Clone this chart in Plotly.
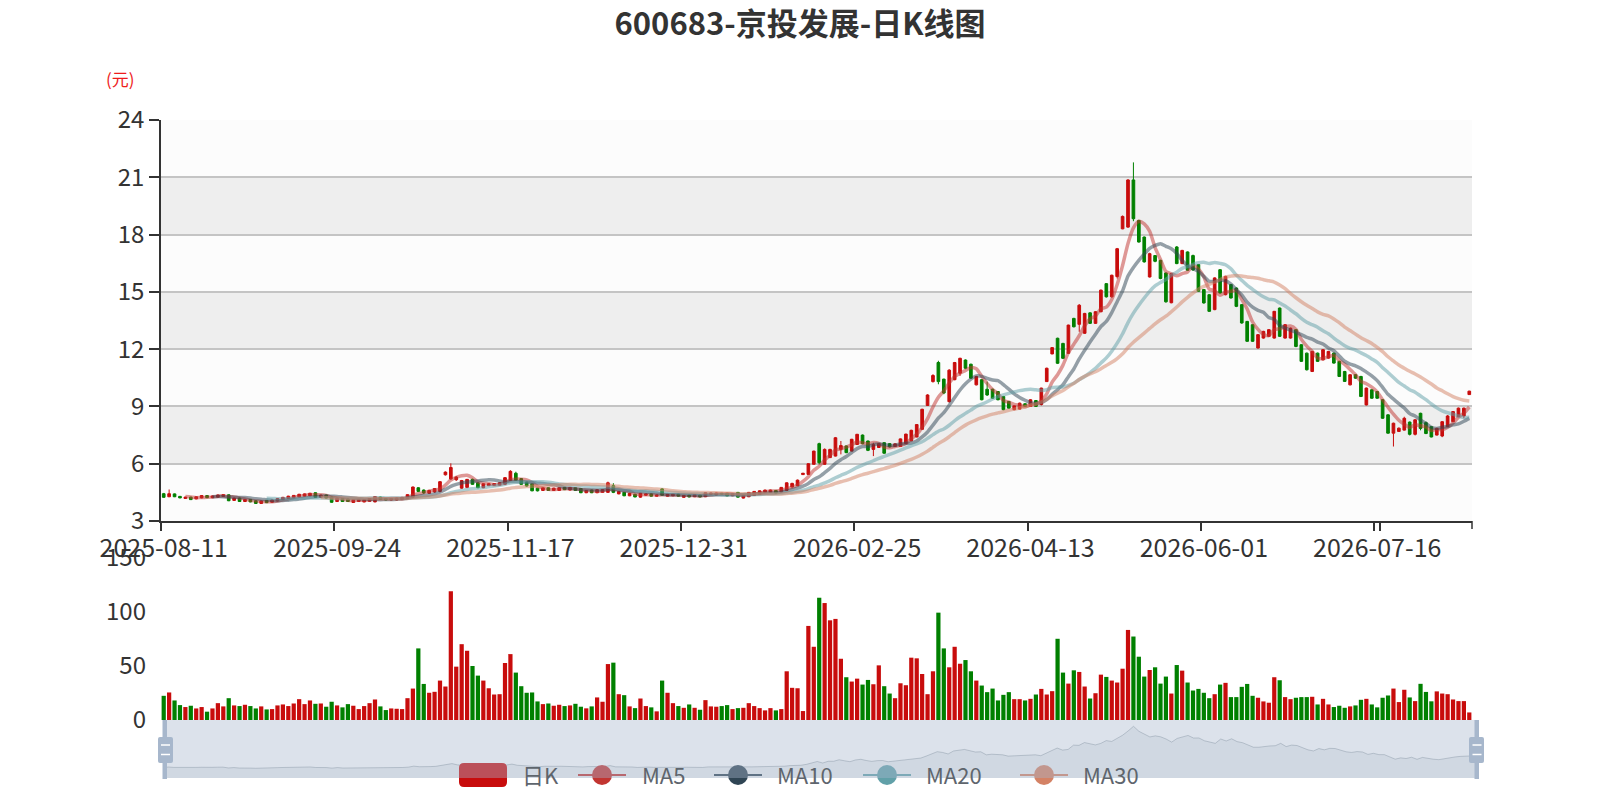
import pandas as pd
import plotly.graph_objects as go

# 画布与配色(参照 ECharts 默认主题)
W, H = 1600, 800
INK = "#333333"
UP = "#c80c0c"
DOWN = "#008000"
GRID = "#c4c4c4"
BAND = "#eeeeee"
FONT = "Noto Sans CJK SC, Noto Sans, sans-serif"
MA_COLORS = {"MA5": "#c23531", "MA10": "#2f4554", "MA20": "#61a0a8", "MA30": "#d48265"}

# 交易日:2025-08-11 ~ 2026-08-10,剔除法定休市日
HOLIDAYS = ["2025-10-01", "2025-10-02", "2025-10-03", "2025-10-06", "2025-10-07",
            "2025-10-08", "2026-01-01", "2026-01-02", "2026-02-16", "2026-02-17",
            "2026-02-18", "2026-02-19", "2026-02-20", "2026-02-23", "2026-04-06",
            "2026-05-01", "2026-05-04", "2026-05-05", "2026-06-19"]
DATES = [d.strftime("%Y-%m-%d") for d in pd.bdate_range("2025-08-11", "2026-08-10")
         if d.strftime("%Y-%m-%d") not in HOLIDAYS]

OPEN = [
    4.43, 4.27, 4.42, 4.29, 4.18, 4.25, 4.16, 4.21, 4.33, 4.22,
    4.25, 4.28, 4.37, 4.08, 4.20, 4.02, 4.13, 4.06, 3.92, 4.08,
    3.98, 4.05, 4.12, 4.18, 4.22, 4.26, 4.30, 4.32, 4.48, 4.24,
    4.36, 4.25, 4.02, 4.18, 4.15, 3.97, 4.02, 4.00, 4.03, 4.00,
    4.25, 4.18, 4.10, 4.10, 4.12, 4.18, 4.25, 4.74, 4.62, 4.45,
    4.52, 4.55, 5.42, 5.20, 5.16, 4.72, 4.76, 5.18, 5.00, 4.74,
    4.85, 4.87, 4.88, 4.92, 5.13, 5.50, 5.22, 5.04, 4.95, 4.72,
    4.60, 4.74, 4.60, 4.60, 4.76, 4.62, 4.74, 4.70, 4.48, 4.62,
    4.48, 4.50, 4.50, 4.85, 4.42, 4.50, 4.32, 4.40, 4.25, 4.35,
    4.42, 4.30, 4.68, 4.30, 4.32, 4.40, 4.24, 4.36, 4.27, 4.36,
    4.27, 4.40, 4.36, 4.45, 4.45, 4.32, 4.50, 4.20, 4.27, 4.34,
    4.40, 4.50, 4.50, 4.60, 4.52, 4.60, 4.78, 4.85, 5.43, 5.44,
    5.97, 7.05, 5.97, 6.32, 6.40, 6.75, 6.93, 6.66, 7.01, 7.50,
    7.19, 6.75, 6.85, 7.10, 7.05, 6.90, 6.90, 7.05, 7.20, 7.40,
    7.80, 9.05, 10.30, 11.30, 10.43, 9.25, 10.40, 10.74, 11.43, 11.21,
    10.13, 10.40, 9.90, 9.90, 9.78, 9.52, 9.26, 8.83, 8.86, 9.14,
    9.00, 9.31, 9.10, 10.30, 11.75, 12.57, 12.30, 11.78, 13.61, 13.30,
    12.83, 13.90, 13.35, 13.96, 15.43, 14.74, 15.80, 18.30, 18.39, 20.86,
    18.74, 17.87, 15.78, 16.90, 16.65, 15.99, 14.43, 17.35, 16.48, 17.09,
    16.90, 16.43, 15.12, 14.85, 14.07, 16.16, 14.85, 15.38, 15.20, 14.33,
    13.45, 13.28, 12.06, 12.58, 12.67, 12.58, 14.15, 12.58, 12.58, 13.02,
    12.23, 11.79, 10.83, 11.79, 11.44, 11.53, 11.79, 11.36, 10.83, 10.13,
    10.66, 10.57, 9.08, 9.87, 9.78, 9.35, 8.56, 7.60, 7.69, 7.76,
    8.18, 7.54, 8.64, 8.15, 7.94, 7.50, 7.45, 7.94, 8.20, 8.46,
    8.50, 9.62]

CLOSE = [
    4.24, 4.43, 4.27, 4.21, 4.25, 4.12, 4.27, 4.33, 4.22, 4.31,
    4.36, 4.38, 4.06, 4.20, 4.02, 4.13, 4.00, 3.92, 4.05, 3.96,
    4.10, 4.18, 4.24, 4.30, 4.34, 4.40, 4.42, 4.45, 4.24, 4.36,
    4.20, 3.98, 4.20, 4.02, 4.02, 4.12, 4.12, 4.12, 4.18, 4.28,
    4.13, 4.10, 4.18, 4.20, 4.24, 4.38, 4.78, 4.55, 4.47, 4.60,
    4.70, 5.06, 5.56, 5.80, 5.30, 5.12, 5.18, 4.92, 4.74, 4.95,
    4.95, 4.96, 5.00, 5.27, 5.60, 5.13, 4.92, 4.83, 4.58, 4.58,
    4.74, 4.60, 4.72, 4.74, 4.64, 4.76, 4.60, 4.48, 4.60, 4.48,
    4.64, 4.64, 5.00, 4.50, 4.55, 4.32, 4.45, 4.26, 4.45, 4.42,
    4.30, 4.36, 4.35, 4.40, 4.40, 4.30, 4.34, 4.26, 4.38, 4.26,
    4.48, 4.46, 4.46, 4.42, 4.32, 4.43, 4.25, 4.35, 4.50, 4.55,
    4.58, 4.62, 4.62, 4.47, 4.76, 5.00, 4.97, 5.14, 5.50, 6.00,
    6.66, 6.05, 6.75, 6.75, 7.36, 6.95, 6.58, 7.28, 7.54, 7.05,
    6.70, 7.00, 7.05, 6.55, 6.88, 7.04, 7.30, 7.55, 7.75, 8.05,
    8.85, 9.60, 10.62, 10.30, 9.70, 10.90, 11.30, 11.52, 11.00, 10.48,
    10.57, 9.35, 9.60, 9.43, 9.35, 8.83, 8.91, 9.03, 9.17, 9.00,
    9.35, 9.00, 9.96, 11.00, 12.08, 11.26, 11.52, 13.26, 13.17, 14.30,
    13.87, 13.35, 13.96, 15.09, 14.74, 15.87, 17.26, 18.95, 20.86, 18.83,
    17.61, 16.57, 17.00, 16.60, 15.70, 14.48, 15.96, 16.48, 17.17, 16.13,
    16.15, 15.03, 14.42, 13.98, 15.73, 14.94, 15.81, 14.68, 14.24, 13.37,
    12.41, 12.41, 12.76, 12.93, 13.02, 13.98, 12.67, 13.28, 13.10, 12.14,
    11.36, 10.92, 11.88, 11.36, 11.97, 11.88, 11.27, 10.57, 10.31, 10.66,
    10.48, 9.52, 9.96, 9.43, 9.43, 8.38, 7.60, 8.12, 7.86, 8.38,
    7.54, 8.30, 7.85, 7.58, 7.40, 7.85, 8.20, 8.50, 8.73, 8.91,
    8.91, 9.80]

HIGH = [
    4.47, 4.65, 4.44, 4.31, 4.27, 4.27, 4.29, 4.35, 4.35, 4.33,
    4.38, 4.40, 4.39, 4.22, 4.22, 4.15, 4.15, 4.08, 4.07, 4.10,
    4.12, 4.20, 4.26, 4.32, 4.36, 4.42, 4.44, 4.47, 4.50, 4.38,
    4.38, 4.27, 4.22, 4.20, 4.17, 4.14, 4.14, 4.14, 4.20, 4.30,
    4.27, 4.20, 4.20, 4.22, 4.26, 4.40, 4.80, 4.77, 4.65, 4.63,
    4.72, 5.08, 5.60, 6.02, 5.35, 5.15, 5.20, 5.22, 5.02, 4.98,
    4.98, 4.99, 5.03, 5.30, 5.66, 5.58, 5.25, 5.06, 4.97, 4.74,
    4.76, 4.76, 4.74, 4.76, 4.78, 4.78, 4.76, 4.72, 4.62, 4.64,
    4.66, 4.66, 5.06, 4.98, 4.57, 4.52, 4.47, 4.42, 4.47, 4.44,
    4.44, 4.38, 4.72, 4.42, 4.42, 4.42, 4.36, 4.38, 4.40, 4.38,
    4.50, 4.48, 4.48, 4.47, 4.47, 4.45, 4.52, 4.37, 4.52, 4.57,
    4.60, 4.64, 4.64, 4.62, 4.78, 5.02, 5.00, 5.17, 5.52, 6.02,
    6.68, 7.10, 6.80, 6.78, 7.40, 7.19, 6.95, 7.30, 7.56, 7.53,
    7.21, 7.10, 7.08, 7.12, 7.08, 7.06, 7.32, 7.57, 7.78, 8.08,
    8.88, 9.64, 10.69, 11.39, 10.45, 10.95, 11.33, 11.55, 11.46, 11.24,
    10.60, 10.43, 10.30, 9.93, 9.80, 9.55, 9.28, 9.05, 9.20, 9.16,
    9.38, 9.33, 9.98, 11.03, 12.10, 12.60, 12.33, 13.28, 13.64, 14.36,
    13.90, 13.93, 13.99, 15.12, 15.46, 15.90, 17.30, 19.00, 20.90, 21.78,
    18.77, 17.90, 17.05, 16.93, 16.68, 16.02, 15.99, 17.40, 17.20, 17.12,
    16.95, 16.46, 15.15, 14.88, 15.76, 16.19, 15.84, 15.41, 15.23, 14.36,
    13.48, 13.31, 12.79, 12.96, 13.05, 14.00, 14.18, 13.31, 13.13, 13.05,
    12.26, 11.82, 11.91, 11.82, 12.00, 11.91, 11.82, 11.39, 10.86, 10.69,
    10.69, 10.60, 9.99, 9.90, 9.81, 9.38, 8.59, 8.15, 7.90, 8.46,
    8.21, 8.33, 8.67, 8.21, 7.96, 7.88, 8.23, 8.55, 8.76, 8.94,
    8.94, 9.82]

LOW = [
    4.22, 4.25, 4.25, 4.19, 4.16, 4.10, 4.14, 4.19, 4.20, 4.20,
    4.23, 4.26, 4.04, 4.06, 4.00, 4.00, 3.98, 3.90, 3.90, 3.94,
    3.96, 4.03, 4.10, 4.16, 4.20, 4.24, 4.28, 4.30, 4.22, 4.22,
    4.18, 3.96, 4.00, 4.00, 4.00, 3.95, 4.00, 3.98, 4.01, 3.98,
    4.11, 4.08, 4.08, 4.08, 4.10, 4.16, 4.23, 4.52, 4.42, 4.42,
    4.48, 4.50, 5.38, 5.16, 5.10, 4.68, 4.72, 4.90, 4.72, 4.72,
    4.83, 4.85, 4.86, 4.90, 5.10, 5.10, 4.90, 4.80, 4.56, 4.55,
    4.58, 4.58, 4.58, 4.58, 4.62, 4.60, 4.58, 4.46, 4.46, 4.46,
    4.46, 4.48, 4.48, 4.46, 4.40, 4.30, 4.30, 4.24, 4.22, 4.33,
    4.28, 4.28, 4.33, 4.28, 4.30, 4.28, 4.22, 4.24, 4.25, 4.24,
    4.25, 4.38, 4.34, 4.40, 4.30, 4.30, 4.23, 4.18, 4.25, 4.32,
    4.38, 4.48, 4.48, 4.45, 4.50, 4.58, 4.76, 4.83, 5.41, 5.42,
    5.95, 5.97, 5.95, 6.30, 6.38, 6.49, 6.55, 6.64, 6.99, 7.02,
    6.66, 6.40, 6.83, 6.52, 6.85, 6.88, 6.88, 7.03, 7.18, 7.38,
    7.78, 9.03, 10.25, 10.16, 9.64, 9.20, 10.37, 10.60, 10.95, 10.45,
    10.10, 9.32, 9.55, 9.40, 9.32, 8.80, 8.88, 8.80, 8.84, 8.97,
    8.98, 8.97, 9.05, 10.28, 11.73, 11.22, 11.48, 11.75, 13.14, 12.91,
    12.80, 13.32, 13.32, 13.93, 14.70, 14.70, 15.70, 18.28, 18.35, 18.70,
    17.58, 16.53, 15.75, 16.55, 15.66, 14.43, 14.40, 16.45, 16.45, 16.10,
    16.10, 15.00, 14.38, 13.95, 14.04, 14.90, 14.82, 14.65, 14.20, 13.33,
    12.38, 12.38, 12.03, 12.55, 12.64, 12.55, 12.64, 12.55, 12.55, 12.10,
    11.33, 10.88, 10.80, 11.33, 11.41, 11.50, 11.24, 10.54, 10.28, 10.10,
    10.45, 9.49, 9.05, 9.40, 9.40, 8.35, 7.57, 6.90, 7.66, 7.74,
    7.48, 7.48, 7.75, 7.55, 7.38, 7.48, 7.39, 7.92, 8.18, 8.44,
    8.38, 9.60]

# 成交量(万手)
VOLUME = [
    22.4, 25.5, 18.1, 13.8, 12.0, 13.2, 10.7, 12.0, 7.7, 10.7,
    15.6, 12.6, 20.2, 13.5, 12.9, 14.1, 12.9, 10.7, 12.6, 9.8,
    10.1, 13.5, 14.4, 12.9, 15.3, 19.3, 14.7, 18.1, 15.0, 15.3,
    12.3, 16.9, 13.5, 11.7, 14.7, 13.2, 10.1, 12.9, 15.6, 19.0,
    12.6, 9.2, 10.7, 10.4, 10.1, 20.2, 29.1, 66.3, 33.4, 25.2,
    26.1, 36.5, 31.0, 119.3, 49.4, 70.2, 64.1, 50.0, 41.1, 36.5,
    29.4, 23.6, 23.9, 52.8, 61.0, 43.9, 31.3, 25.2, 25.5, 17.2,
    14.7, 15.3, 13.2, 14.1, 12.9, 13.5, 15.0, 12.3, 10.8, 12.6,
    20.9, 16.9, 51.8, 53.1, 23.9, 23.0, 12.6, 11.0, 19.9, 12.9,
    11.7, 8.0, 36.5, 25.2, 15.6, 12.9, 11.3, 14.4, 11.3, 9.5,
    18.4, 12.6, 12.3, 12.9, 13.8, 10.1, 11.0, 11.3, 15.6, 12.9,
    11.0, 8.9, 11.0, 8.9, 10.1, 45.1, 29.8, 29.4, 8.3, 87.1,
    67.8, 113.2, 108.3, 92.3, 93.6, 56.7, 39.6, 35.6, 38.3, 32.8,
    37.1, 33.1, 50.6, 31.3, 24.5, 20.2, 34.0, 32.2, 57.7, 57.1,
    42.6, 23.9, 45.1, 99.4, 66.3, 48.8, 67.8, 52.1, 55.5, 45.1,
    36.5, 31.9, 25.8, 29.1, 18.1, 23.3, 25.8, 19.3, 19.3, 18.1,
    19.6, 23.6, 28.8, 23.6, 26.7, 75.2, 43.9, 33.7, 46.0, 44.5,
    31.0, 19.9, 24.8, 42.0, 39.9, 36.5, 34.7, 47.5, 83.4, 77.3,
    58.6, 40.2, 46.3, 48.8, 33.7, 40.2, 24.5, 50.9, 45.7, 34.7,
    27.3, 28.8, 25.2, 20.2, 23.9, 32.8, 34.4, 21.2, 21.2, 30.7,
    33.4, 22.4, 20.6, 17.2, 16.0, 39.6, 36.8, 21.2, 19.3, 20.6,
    21.2, 21.2, 21.5, 14.4, 19.6, 14.4, 12.0, 13.2, 11.3, 12.6,
    13.5, 18.7, 19.6, 14.4, 11.7, 20.6, 22.7, 29.1, 16.6, 28.0,
    20.9, 17.5, 33.5, 26.0, 17.3, 26.5, 24.5, 23.9, 19.0, 17.5,
    17.5, 7.0]

N = len(DATES)
TICKS = DATES[::32]
MA_WINDOWS = [5, 10, 20, 30]


def px(x):
    return x / W


def py(y):
    return 1 - y / H


def rrect(x0, y0, x1, y1, r):
    """圆角矩形路径(像素坐标 -> paper 坐标)"""
    pts = [
        f"M {px(x0 + r)},{py(y0)}", f"L {px(x1 - r)},{py(y0)}",
        f"Q {px(x1)},{py(y0)} {px(x1)},{py(y0 + r)}", f"L {px(x1)},{py(y1 - r)}",
        f"Q {px(x1)},{py(y1)} {px(x1 - r)},{py(y1)}", f"L {px(x0 + r)},{py(y1)}",
        f"Q {px(x0)},{py(y1)} {px(x0)},{py(y1 - r)}", f"L {px(x0)},{py(y0 + r)}",
        f"Q {px(x0)},{py(y0)} {px(x0 + r)},{py(y0)}", "Z"]
    return " ".join(pts)


close_s = pd.Series(CLOSE)
fig = go.Figure()

fig.add_trace(go.Candlestick(
    x=DATES, open=OPEN, high=HIGH, low=LOW, close=CLOSE, name="日K",
    increasing=dict(line=dict(color=UP, width=1), fillcolor=UP),
    decreasing=dict(line=dict(color=DOWN, width=1), fillcolor=DOWN),
    whiskerwidth=0, xaxis="x", yaxis="y"))

for n in MA_WINDOWS:
    name = f"MA{n}"
    fig.add_trace(go.Scatter(
        x=DATES, y=close_s.rolling(n).mean().round(3), name=name, mode="lines",
        line=dict(color=MA_COLORS[name], width=3.5, shape="spline", smoothing=0.6),
        opacity=0.5, xaxis="x", yaxis="y", hoverinfo="skip"))

bar_colors = [UP if c >= o else DOWN for o, c in zip(OPEN, CLOSE)]
fig.add_trace(go.Bar(
    x=DATES, y=VOLUME, name="成交量", marker=dict(color=bar_colors, line=dict(width=0)),
    xaxis="x2", yaxis="y2"))

# dataZoom 阴影
fig.add_trace(go.Scatter(
    x=list(range(N)), y=CLOSE, mode="lines", fill="tozeroy",
    fillcolor="rgba(47,69,84,0.09)", line=dict(color="rgba(47,69,84,0.3)", width=1),
    xaxis="x3", yaxis="y3", hoverinfo="skip"))

shapes = []
# splitArea 交替底色
for lo, hi, col in [(3, 6, "#fcfcfc"), (6, 9, BAND), (9, 12, "#fcfcfc"), (12, 15, BAND),
                    (15, 18, "#fcfcfc"), (18, 21, BAND), (21, 24, "#fcfcfc")]:
    shapes.append(dict(type="rect", xref="x domain", yref="y", x0=0, x1=1, y0=lo, y1=hi,
                       fillcolor=col, line=dict(width=0), layer="below"))
# 轴末端刻度
shapes.append(dict(type="line", xref="paper", yref="paper", x0=px(1472), x1=px(1472),
                   y0=py(521), y1=py(529), line=dict(color=INK, width=1.5)))

# 图例图标(被 dataZoom 覆盖的部分颜色变浅)
shapes.append(dict(type="path", xref="paper", yref="paper", path=rrect(459, 763, 507, 787, 5),
                   fillcolor=UP, line=dict(width=0), layer="above"))
legend_items = [("MA5", 578, 640), ("MA10", 714, 775), ("MA20", 863, 924), ("MA30", 1020, 1081)]
for name, x0, _ in legend_items:
    col = MA_COLORS[name]
    shapes.append(dict(type="line", xref="paper", yref="paper", x0=px(x0), x1=px(x0 + 48),
                       y0=py(775), y1=py(775), line=dict(color=col, width=2), layer="above"))
    shapes.append(dict(type="circle", xref="paper", yref="paper", x0=px(x0 + 14), x1=px(x0 + 34),
                       y0=py(785), y1=py(765), fillcolor=col, line=dict(width=0), layer="above"))

# dataZoom 滑块
shapes.append(dict(type="rect", xref="paper", yref="paper", x0=px(163), x1=px(1477),
                   y0=py(778), y1=py(720), fillcolor="rgba(167,183,204,0.4)",
                   line=dict(width=0), layer="above"))
for bx0, bx1, hx0, hx1, lx0, lx1 in [(162.5, 167, 158, 173, 161, 170),
                                      (1474.5, 1479, 1469, 1484, 1472.5, 1481.5)]:
    shapes.append(dict(type="rect", xref="paper", yref="paper", x0=px(bx0), x1=px(bx1),
                       y0=py(779), y1=py(720), fillcolor="#a7b7cc", line=dict(width=0),
                       layer="above"))
    shapes.append(dict(type="path", xref="paper", yref="paper", path=rrect(hx0, 737, hx1, 763, 2),
                       fillcolor="#a7b7cc", line=dict(width=0), layer="above"))
    for ly in (745, 754.5):
        shapes.append(dict(type="line", xref="paper", yref="paper", x0=px(lx0), x1=px(lx1),
                           y0=py(ly), y1=py(ly), line=dict(color="white", width=1.5),
                           layer="above"))

annotations = [
    dict(text="(元)", x=px(120), y=py(78), xref="paper", yref="paper", showarrow=False,
         xanchor="center", yanchor="middle", font=dict(size=17, color="#ee1c1c")),
    dict(text="日K", x=px(520), y=py(774), xref="paper", yref="paper", showarrow=False,
         xanchor="left", yanchor="middle", font=dict(size=22, color="#5e656d")),
]
for name, _, tx in legend_items:
    annotations.append(dict(text=name, x=px(tx), y=py(774), xref="paper", yref="paper",
                            showarrow=False, xanchor="left", yanchor="middle",
                            font=dict(size=22, color="#5e656d")))

fig.update_layout(
    width=W, height=H, margin=dict(l=0, r=0, t=0, b=0, autoexpand=False),
    paper_bgcolor="white", plot_bgcolor="white",
    font=dict(family=FONT, color=INK),
    showlegend=False, bargap=0.22, hovermode="x",
    title=dict(text="600683-京投发展-日K线图", x=0.5, xanchor="center", y=py(24),
               yanchor="middle", font=dict(size=31, color=INK, weight="bold")),
    xaxis=dict(domain=[px(161), px(1472)], anchor="y", type="category", automargin=False,
               range=[-0.5, N - 0.5], tickvals=TICKS, tickson="boundaries", tickangle=0,
               ticks="outside", ticklen=8, tickwidth=1.5, tickcolor=INK, ticklabelstandoff=4,
               showline=True, linecolor=INK, linewidth=1.5, showgrid=False,
               tickfont=dict(size=25, color=INK), rangeslider=dict(visible=False)),
    yaxis=dict(domain=[py(521), py(120)], anchor="x", range=[3, 24], tick0=3, dtick=3,
               automargin=False, ticks="outside", ticklen=10, tickwidth=1.5, tickcolor=INK,
               showline=True, linecolor=INK, linewidth=1.5, gridcolor=GRID, gridwidth=1.5,
               zeroline=False, tickfont=dict(size=24, color=INK)),
    xaxis2=dict(domain=[px(161), px(1472)], anchor="y2", type="category", automargin=False,
                range=[-0.5, N - 0.5], visible=False),
    yaxis2=dict(domain=[py(720), py(558)], anchor="x2", range=[0, 150], dtick=50,
                automargin=False, showgrid=False, zeroline=False, showline=False, ticks="",
                ticklabelstandoff=14, tickfont=dict(size=24, color=INK)),
    xaxis3=dict(domain=[px(163), px(1477)], anchor="y3", range=[0, N - 1], visible=False,
                automargin=False),
    yaxis3=dict(domain=[py(778), py(720)], anchor="x3", range=[0, 23.4], visible=False,
                automargin=False),
    shapes=shapes, annotations=annotations,
)

# 去掉页面默认 8px 边距,使图表与窗口左上角对齐
fig.write_html("out.html", config={"displayModeBar": False},
               post_script="document.body.style.margin='0';")
